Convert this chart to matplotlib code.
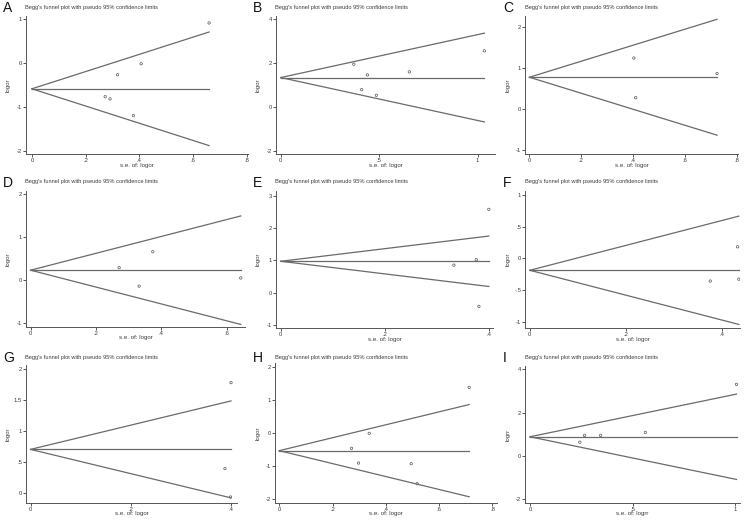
import matplotlib
matplotlib.use("Agg")
import matplotlib.pyplot as plt
import numpy as np

plt.rcParams["font.family"] = ["Liberation Sans", "DejaVu Sans"]

W, H = 750, 524
Z95 = 1.96

# ── data (one entry per panel) ────────────────────────────────────────────────
letters = ["A", "B", "C", "D", "E", "F", "G", "H", "I"]
measure = ["logor"] * 8 + ["logrr"]

# pooled estimate (horizontal line)
centers = [-0.59, 1.34, 0.78, 0.23, 0.97, -0.19, 0.70, -0.545, 0.88]

# study points: standard error and log effect
se_A = [0.660, 0.319, 0.407, 0.273, 0.291, 0.378]
es_A = [0.91, -0.27, -0.02, -0.77, -0.82, -1.20]
se_B = [1.034, 0.371, 0.440, 0.653, 0.411, 0.486]
es_B = [2.56, 1.95, 1.46, 1.60, 0.79, 0.53]
se_C = [0.724, 0.403, 0.410]
es_C = [0.87, 1.25, 0.28]
se_D = [0.643, 0.271, 0.374, 0.332]
es_D = [0.05, 0.29, 0.66, -0.14]
se_E = [0.399, 0.375, 0.332, 0.380]
es_E = [2.58, 1.02, 0.85, -0.43]
se_F = [0.4355, 0.433, 0.376]
es_F = [-0.33, 0.18, -0.36]
se_G = [0.400, 0.388, 0.399]
es_G = [1.78, 0.39, -0.07]
se_H = [0.7125, 0.3375, 0.271, 0.2975, 0.495, 0.5175]
es_H = [1.37, -0.02, -0.475, -0.92, -0.94, -1.545]
se_I = [1.006, 0.266, 0.344, 0.562, 0.243]
es_I = [3.30, 0.94, 0.94, 1.08, 0.63]

se_all = [se_A, se_B, se_C, se_D, se_E, se_F, se_G, se_H, se_I]
es_all = [es_A, es_B, es_C, es_D, es_E, es_F, es_G, es_H, es_I]

xticks = [[0, .2, .4, .6, .8], [0, .5, 1], [0, .2, .4, .6, .8],
          [0, .2, .4, .6], [0, .2, .4], [0, .2, .4],
          [0, .2, .4], [0, .2, .4, .6, .8], [0, .5, 1]]
yticks = [[-2, -1, 0, 1], [-2, 0, 2, 4], [-1, 0, 1, 2],
          [-1, 0, 1, 2], [-1, 0, 1, 2, 3], [-1, -.5, 0, .5, 1],
          [0, .5, 1, 1.5, 2], [-2, -1, 0, 1, 2], [-2, 0, 2, 4]]

# ── layout (panel-local pixels) and axis ranges ───────────────────────────────
boxes = [(26, 248, 16, 154), (26, 245, 16, 154), (25, 238, 16, 154),
         (26, 245, 16, 152), (26, 243, 16, 153), (25, 240, 16, 153),
         (26, 237, 15, 153), (25, 247, 13, 153), (25, 240, 16, 153)]
xlims = [(-0.022, 0.805), (-0.024, 1.088), (-0.017, 0.805),
         (-0.014, 0.656), (-0.009, 0.407), (-0.010, 0.438),
         (-0.009, 0.412), (-0.016, 0.817), (-0.024, 1.023)]
ylims = [(-2.075, 1.068), (-2.15, 4.15), (-1.10, 2.28),
         (-1.09, 2.07), (-1.10, 3.15), (-1.10, 1.06),
         (-0.167, 2.065), (-2.13, 2.11), (-2.18, 4.15)]

LINE = "#6a6a6a"
TEXT = "#3a3a3a"


def fmt(v):
    s = f"{v:g}"
    if s.startswith("0.") and len(s) > 2:
        s = s[1:]
    elif s.startswith("-0."):
        s = "-" + s[2:]
    return s


fig = plt.figure(figsize=(W / 100, H / 100), dpi=100)
fig.patch.set_facecolor("white")

for i in range(9):
    col, row = i % 3, i // 3
    ox, oy = col * 250, row * 175
    L, R, T, B = boxes[i]
    ax = fig.add_axes([(ox + L) / W, 1 - (oy + B) / H, (R - L) / W, (B - T) / H])

    se = np.array(se_all[i])
    es = np.array(es_all[i])
    c = centers[i]
    smax = se.max()

    ax.plot([0, smax], [c, c], color=LINE, lw=0.9)
    ax.plot([0, smax], [c, c + Z95 * smax], color=LINE, lw=0.9)
    ax.plot([0, smax], [c, c - Z95 * smax], color=LINE, lw=0.9)
    ax.scatter(se, es, s=3, facecolors="none", edgecolors="#555555", linewidths=0.5)

    ax.set_xlim(*xlims[i])
    ax.set_ylim(*ylims[i])
    ax.set_xticks(xticks[i])
    ax.set_xticklabels([fmt(v) for v in xticks[i]])
    ax.set_yticks(yticks[i])
    ax.set_yticklabels([fmt(v) for v in yticks[i]])
    ax.tick_params(length=2, width=0.6, pad=0.8, labelsize=4.2,
                   colors=TEXT, direction="out")
    for sp in ["top", "right"]:
        ax.spines[sp].set_visible(False)
    for sp in ["left", "bottom"]:
        ax.spines[sp].set_color("#555555")
        ax.spines[sp].set_linewidth(0.7)
    ax.set_facecolor("white")

    # texts
    fig.text((ox + 3) / W, 1 - (oy + 8) / H, letters[i], fontsize=10,
             ha="left", va="center", color="#111111")
    fig.text((ox + 25) / W, 1 - (oy + 7) / H,
             "Begg's funnel plot with pseudo 95% confidence limits",
             fontsize=4.1, ha="left", va="center", color=TEXT)
    fig.text((ox + (L + R) / 2) / W, 1 - (oy + B + 11) / H, f"s.e. of: {measure[i]}",
             fontsize=4.4, ha="center", va="center", color=TEXT)
    fig.text((ox + 8) / W, 1 - (oy + (T + B) / 2) / H, measure[i],
             fontsize=4.4, ha="center", va="center", rotation=90, color=TEXT)

fig.savefig("out.png", dpi=100, facecolor="white")
